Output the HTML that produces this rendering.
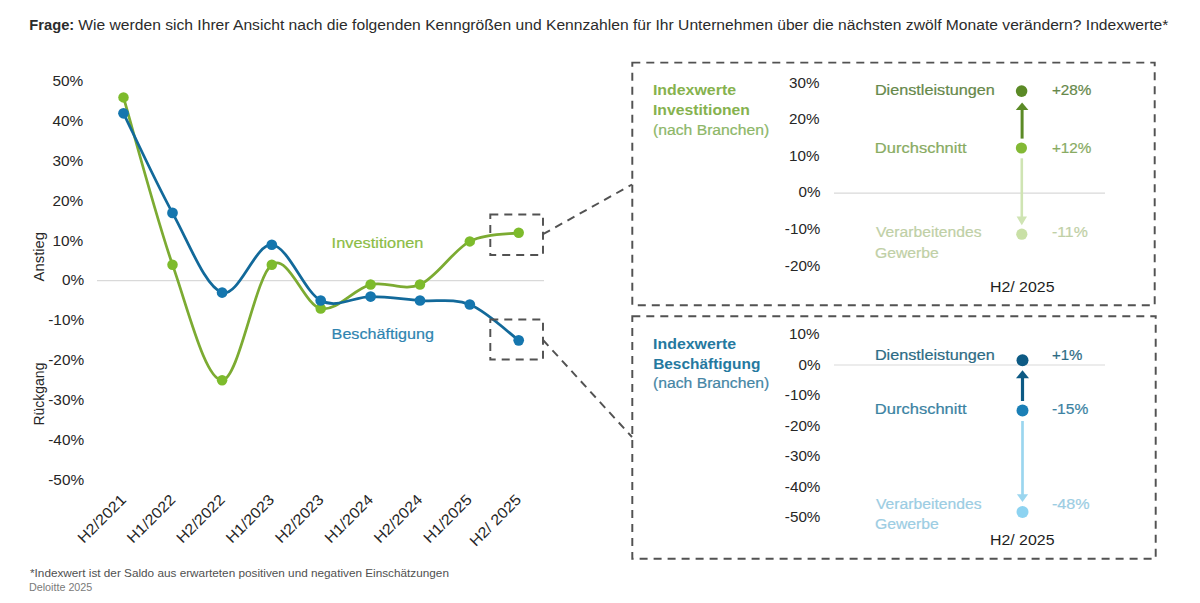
<!DOCTYPE html>
<html><head><meta charset="utf-8"><style>
html,body{margin:0;padding:0;background:#fff;width:1200px;height:603px;overflow:hidden}
svg{display:block;font-family:"Liberation Sans",sans-serif}
</style></head><body>
<svg width="1200" height="603" viewBox="0 0 1200 603">
<text transform="translate(29.35,30.20) scale(0.9489,1)" font-size="15.5" font-weight="bold" fill="#2b2b2b" stroke="#2b2b2b" stroke-width="0">Frage:</text>
<text transform="translate(78.30,30.20) scale(1.0097,1)" font-size="15.5" font-weight="normal" fill="#2b2b2b" stroke="#2b2b2b" stroke-width="0">Wie werden sich Ihrer Ansicht nach die folgenden Kenngrößen und Kennzahlen für Ihr Unternehmen über die nächsten zwölf Monate verändern? Indexwerte*</text>
<text transform="translate(52.46,86.30) scale(1.0600,1)" font-size="14.5" font-weight="normal" fill="#262626" stroke="#262626" stroke-width="0">50%</text>
<text transform="translate(52.46,126.13) scale(1.0600,1)" font-size="14.5" font-weight="normal" fill="#262626" stroke="#262626" stroke-width="0">40%</text>
<text transform="translate(52.46,165.96) scale(1.0600,1)" font-size="14.5" font-weight="normal" fill="#262626" stroke="#262626" stroke-width="0">30%</text>
<text transform="translate(52.46,205.79) scale(1.0600,1)" font-size="14.5" font-weight="normal" fill="#262626" stroke="#262626" stroke-width="0">20%</text>
<text transform="translate(52.46,245.62) scale(1.0600,1)" font-size="14.5" font-weight="normal" fill="#262626" stroke="#262626" stroke-width="0">10%</text>
<text transform="translate(62.00,285.45) scale(1.0600,1)" font-size="14.5" font-weight="normal" fill="#262626" stroke="#262626" stroke-width="0">0%</text>
<text transform="translate(48.22,325.28) scale(1.0600,1)" font-size="14.5" font-weight="normal" fill="#262626" stroke="#262626" stroke-width="0">-10%</text>
<text transform="translate(48.22,365.11) scale(1.0600,1)" font-size="14.5" font-weight="normal" fill="#262626" stroke="#262626" stroke-width="0">-20%</text>
<text transform="translate(48.22,404.94) scale(1.0600,1)" font-size="14.5" font-weight="normal" fill="#262626" stroke="#262626" stroke-width="0">-30%</text>
<text transform="translate(48.22,444.77) scale(1.0600,1)" font-size="14.5" font-weight="normal" fill="#262626" stroke="#262626" stroke-width="0">-40%</text>
<text transform="translate(48.22,484.60) scale(1.0600,1)" font-size="14.5" font-weight="normal" fill="#262626" stroke="#262626" stroke-width="0">-50%</text>
<text transform="translate(331.61,247.80) scale(1.0915,1)" font-size="15" font-weight="normal" fill="#8cbc45" stroke="#8cbc45" stroke-width="0.2">Investitionen</text>
<text transform="translate(331.62,339.40) scale(1.0763,1)" font-size="15" font-weight="normal" fill="#2f84b0" stroke="#2f84b0" stroke-width="0.2">Beschäftigung</text>
<text transform="translate(652.90,94.70) scale(1.0986,1)" font-size="14.5" font-weight="bold" fill="#86b24e" stroke="#86b24e" stroke-width="0">Indexwerte</text>
<text transform="translate(652.91,114.70) scale(1.0864,1)" font-size="14.5" font-weight="bold" fill="#86b24e" stroke="#86b24e" stroke-width="0">Investitionen</text>
<text transform="translate(652.91,134.70) scale(1.0857,1)" font-size="14.5" font-weight="normal" fill="#8db768" stroke="#8db768" stroke-width="0.2">(nach Branchen)</text>
<text transform="translate(789.05,87.60) scale(1.0500,1)" font-size="14.5" font-weight="normal" fill="#262626" stroke="#262626" stroke-width="0">30%</text>
<text transform="translate(789.05,124.20) scale(1.0500,1)" font-size="14.5" font-weight="normal" fill="#262626" stroke="#262626" stroke-width="0">20%</text>
<text transform="translate(789.05,160.80) scale(1.0500,1)" font-size="14.5" font-weight="normal" fill="#262626" stroke="#262626" stroke-width="0">10%</text>
<text transform="translate(798.50,197.40) scale(1.0500,1)" font-size="14.5" font-weight="normal" fill="#262626" stroke="#262626" stroke-width="0">0%</text>
<text transform="translate(784.85,234.00) scale(1.0500,1)" font-size="14.5" font-weight="normal" fill="#262626" stroke="#262626" stroke-width="0">-10%</text>
<text transform="translate(784.85,270.60) scale(1.0500,1)" font-size="14.5" font-weight="normal" fill="#262626" stroke="#262626" stroke-width="0">-20%</text>
<text transform="translate(874.88,95.40) scale(1.1200,1)" font-size="14.5" font-weight="normal" fill="#66884a" stroke="#66884a" stroke-width="0.2">Dienstleistungen</text>
<text transform="translate(874.86,152.60) scale(1.1392,1)" font-size="14.5" font-weight="normal" fill="#88ab62" stroke="#88ab62" stroke-width="0.2">Durchschnitt</text>
<text transform="translate(876.00,237.40) scale(1.0825,1)" font-size="14.5" font-weight="normal" fill="#bfd0a6" stroke="#bfd0a6" stroke-width="0.2">Verarbeitendes</text>
<text transform="translate(874.91,258.00) scale(1.0877,1)" font-size="14.5" font-weight="normal" fill="#bfd0a6" stroke="#bfd0a6" stroke-width="0.2">Gewerbe</text>
<text transform="translate(1051.94,95.40) scale(1.0556,1)" font-size="14.5" font-weight="normal" fill="#66884a" stroke="#66884a" stroke-width="0.2">+28%</text>
<text transform="translate(1051.94,152.60) scale(1.0556,1)" font-size="14.5" font-weight="normal" fill="#88ab62" stroke="#88ab62" stroke-width="0.2">+12%</text>
<text transform="translate(1051.90,237.40) scale(1.0968,1)" font-size="14.5" font-weight="normal" fill="#bfd0a6" stroke="#bfd0a6" stroke-width="0.2">-11%</text>
<text transform="translate(989.94,292.00) scale(1.0610,1)" font-size="15" font-weight="normal" fill="#1e1e1e" stroke="#1e1e1e" stroke-width="0">H2/ 2025</text>
<text transform="translate(653.10,349.20) scale(1.0959,1)" font-size="14.5" font-weight="bold" fill="#25799f" stroke="#25799f" stroke-width="0">Indexwerte</text>
<text transform="translate(653.13,369.20) scale(1.0657,1)" font-size="14.5" font-weight="bold" fill="#25799f" stroke="#25799f" stroke-width="0">Beschäftigung</text>
<text transform="translate(652.91,388.30) scale(1.0857,1)" font-size="14.5" font-weight="normal" fill="#4686a5" stroke="#4686a5" stroke-width="0.2">(nach Branchen)</text>
<text transform="translate(789.05,339.30) scale(1.0500,1)" font-size="14.5" font-weight="normal" fill="#262626" stroke="#262626" stroke-width="0">10%</text>
<text transform="translate(798.50,369.80) scale(1.0500,1)" font-size="14.5" font-weight="normal" fill="#262626" stroke="#262626" stroke-width="0">0%</text>
<text transform="translate(784.85,400.30) scale(1.0500,1)" font-size="14.5" font-weight="normal" fill="#262626" stroke="#262626" stroke-width="0">-10%</text>
<text transform="translate(784.85,430.80) scale(1.0500,1)" font-size="14.5" font-weight="normal" fill="#262626" stroke="#262626" stroke-width="0">-20%</text>
<text transform="translate(784.85,461.30) scale(1.0500,1)" font-size="14.5" font-weight="normal" fill="#262626" stroke="#262626" stroke-width="0">-30%</text>
<text transform="translate(784.85,491.80) scale(1.0500,1)" font-size="14.5" font-weight="normal" fill="#262626" stroke="#262626" stroke-width="0">-40%</text>
<text transform="translate(784.85,522.30) scale(1.0500,1)" font-size="14.5" font-weight="normal" fill="#262626" stroke="#262626" stroke-width="0">-50%</text>
<text transform="translate(874.88,360.40) scale(1.1200,1)" font-size="14.5" font-weight="normal" fill="#2d6b84" stroke="#2d6b84" stroke-width="0.2">Dienstleistungen</text>
<text transform="translate(1051.96,360.40) scale(1.0357,1)" font-size="14.5" font-weight="normal" fill="#2d6b84" stroke="#2d6b84" stroke-width="0.2">+1%</text>
<text transform="translate(874.86,413.60) scale(1.1392,1)" font-size="14.5" font-weight="normal" fill="#3a82a2" stroke="#3a82a2" stroke-width="0.2">Durchschnitt</text>
<text transform="translate(1051.92,413.60) scale(1.0750,1)" font-size="14.5" font-weight="normal" fill="#3a82a2" stroke="#3a82a2" stroke-width="0.2">-15%</text>
<text transform="translate(876.00,508.60) scale(1.0825,1)" font-size="14.5" font-weight="normal" fill="#9ccde3" stroke="#9ccde3" stroke-width="0.2">Verarbeitendes</text>
<text transform="translate(874.91,529.40) scale(1.0877,1)" font-size="14.5" font-weight="normal" fill="#9ccde3" stroke="#9ccde3" stroke-width="0.2">Gewerbe</text>
<text transform="translate(1051.89,508.60) scale(1.1125,1)" font-size="14.5" font-weight="normal" fill="#9ccde3" stroke="#9ccde3" stroke-width="0.2">-48%</text>
<text transform="translate(989.94,545.00) scale(1.0610,1)" font-size="15" font-weight="normal" fill="#1e1e1e" stroke="#1e1e1e" stroke-width="0">H2/ 2025</text>
<text transform="translate(30.00,576.50) scale(1.1775,1)" font-size="10" font-weight="normal" fill="#505050" stroke="#505050" stroke-width="0">*Indexwert ist der Saldo aus erwarteten positiven und negativen Einschätzungen</text>
<text transform="translate(28.95,590.80) scale(1.0458,1)" font-size="10.3" font-weight="normal" fill="#7a7a7a" stroke="#7a7a7a" stroke-width="0">Deloitte 2025</text>
<line x1="97" y1="280.6" x2="544" y2="280.6" stroke="#d9d9d9" stroke-width="1.2"/>
<line x1="834" y1="193.2" x2="1105" y2="193.2" stroke="#d9d9d9" stroke-width="1.2"/>
<line x1="834" y1="365" x2="1105" y2="365" stroke="#d9d9d9" stroke-width="1.2"/>
<text transform="translate(43.8,281.4) rotate(-90) scale(1.06,1)" font-size="14" fill="#262626">Anstieg</text>
<text transform="translate(43.8,425.6) rotate(-90) scale(1.0,1)" font-size="14" fill="#262626">Rückgang</text>
<text transform="translate(127.00,500.70) rotate(-45) scale(1.08,1)" font-size="15" fill="#262626" text-anchor="end">H2/2021</text>
<text transform="translate(176.40,500.70) rotate(-45) scale(1.08,1)" font-size="15" fill="#262626" text-anchor="end">H1/2022</text>
<text transform="translate(225.80,500.70) rotate(-45) scale(1.08,1)" font-size="15" fill="#262626" text-anchor="end">H2/2022</text>
<text transform="translate(275.20,500.70) rotate(-45) scale(1.08,1)" font-size="15" fill="#262626" text-anchor="end">H1/2023</text>
<text transform="translate(324.60,500.70) rotate(-45) scale(1.08,1)" font-size="15" fill="#262626" text-anchor="end">H2/2023</text>
<text transform="translate(374.00,500.70) rotate(-45) scale(1.08,1)" font-size="15" fill="#262626" text-anchor="end">H1/2024</text>
<text transform="translate(423.40,500.70) rotate(-45) scale(1.08,1)" font-size="15" fill="#262626" text-anchor="end">H2/2024</text>
<text transform="translate(472.80,500.70) rotate(-45) scale(1.08,1)" font-size="15" fill="#262626" text-anchor="end">H1/2025</text>
<text transform="translate(522.20,500.70) rotate(-45) scale(1.08,1)" font-size="15" fill="#262626" text-anchor="end">H2/ 2025</text>
<path d="M123.50,97.38 C131.67,125.26 156.07,217.54 172.50,264.67 C188.93,311.80 205.55,380.18 222.10,380.18 C238.65,380.18 255.37,276.62 271.80,264.67 C288.23,252.72 304.23,305.16 320.70,308.48 C337.17,311.80 354.05,288.57 370.60,284.58 C387.15,280.60 403.47,291.78 420.00,284.58 C436.53,277.39 453.35,250.03 469.80,241.40 C486.25,232.77 510.55,234.24 518.70,232.80" fill="none" stroke="#7cab32" stroke-width="2.75"/>
<path d="M123.50,113.31 C131.67,129.91 156.07,183.02 172.50,212.89 C188.93,242.76 205.55,287.24 222.10,292.55 C238.65,297.86 255.37,243.43 271.80,244.75 C288.23,246.08 304.23,291.89 320.70,300.52 C337.17,309.14 354.05,296.53 370.60,296.53 C387.15,296.53 403.47,299.19 420.00,300.52 C436.53,301.84 453.35,297.86 469.80,304.50 C486.25,311.14 510.55,334.37 518.70,340.35" fill="none" stroke="#12699a" stroke-width="2.75"/>
<circle cx="123.50" cy="97.38" r="5.25" fill="#7dbb2c"/>
<circle cx="172.50" cy="264.67" r="5.25" fill="#7dbb2c"/>
<circle cx="222.10" cy="380.18" r="5.25" fill="#7dbb2c"/>
<circle cx="271.80" cy="264.67" r="5.25" fill="#7dbb2c"/>
<circle cx="320.70" cy="308.48" r="5.25" fill="#7dbb2c"/>
<circle cx="370.60" cy="284.58" r="5.25" fill="#7dbb2c"/>
<circle cx="420.00" cy="284.58" r="5.25" fill="#7dbb2c"/>
<circle cx="469.80" cy="241.40" r="5.25" fill="#7dbb2c"/>
<circle cx="518.70" cy="232.80" r="5.25" fill="#7dbb2c"/>
<circle cx="123.50" cy="113.31" r="5.35" fill="#1576ae"/>
<circle cx="172.50" cy="212.89" r="5.35" fill="#1576ae"/>
<circle cx="222.10" cy="292.55" r="5.35" fill="#1576ae"/>
<circle cx="271.80" cy="244.75" r="5.35" fill="#1576ae"/>
<circle cx="320.70" cy="300.52" r="5.35" fill="#1576ae"/>
<circle cx="370.60" cy="296.53" r="5.35" fill="#1576ae"/>
<circle cx="420.00" cy="300.52" r="5.35" fill="#1576ae"/>
<circle cx="469.80" cy="304.50" r="5.35" fill="#1576ae"/>
<circle cx="518.70" cy="340.35" r="5.35" fill="#1576ae"/>
<rect x="490.3" y="214.5" width="52.7" height="40.5" fill="none" stroke="#525252" stroke-width="1.95" stroke-dasharray="8,6"/>
<rect x="490.3" y="319.5" width="52.7" height="40" fill="none" stroke="#525252" stroke-width="1.95" stroke-dasharray="8,6"/>
<line x1="543" y1="234.2" x2="632" y2="184.5" fill="none" stroke="#525252" stroke-width="1.95" stroke-dasharray="8,6"/>
<line x1="543" y1="340" x2="632" y2="437" fill="none" stroke="#525252" stroke-width="1.95" stroke-dasharray="8,6"/>
<rect x="632.3" y="62.6" width="522.4" height="242.7" fill="none" stroke="#525252" stroke-width="1.95" stroke-dasharray="8,6"/>
<rect x="632.3" y="316.2" width="523.4" height="242.5" fill="none" stroke="#525252" stroke-width="1.95" stroke-dasharray="8,6"/>
<circle cx="1021.6" cy="91.1" r="5.8" fill="#5b8a26"/>
<circle cx="1021.4" cy="148" r="5.6" fill="#83b935"/>
<circle cx="1021.8" cy="234.2" r="5.6" fill="#c9e0a6"/>
<line x1="1022.1" y1="138.6" x2="1022.1" y2="109" stroke="#5b8a26" stroke-width="3"/>
<path d="M1015.8,110 L1028.4,110 L1022.1,102.4 Z" fill="#5b8a26"/>
<line x1="1021.8" y1="158.3" x2="1021.8" y2="217" stroke="#cfe4b3" stroke-width="2.6"/>
<path d="M1016.6,216.6 L1027,216.6 L1021.8,225.3 Z" fill="#cfe4b3"/>
<circle cx="1022.5" cy="360.2" r="6" fill="#0d5a84"/>
<circle cx="1022.5" cy="410.6" r="6" fill="#1a7fb6"/>
<circle cx="1022.5" cy="512" r="6" fill="#8dd3f1"/>
<line x1="1022.5" y1="401" x2="1022.5" y2="377" stroke="#0d5a84" stroke-width="3.2"/>
<path d="M1016.00,378.2 L1029.00,378.2 L1022.50,370.2 Z" fill="#0d5a84"/>
<line x1="1022.5" y1="421" x2="1022.5" y2="495" stroke="#9bd6ef" stroke-width="2.7"/>
<path d="M1016.90,494.2 L1028.10,494.2 L1022.50,502 Z" fill="#9bd6ef"/>
</svg></body></html>
